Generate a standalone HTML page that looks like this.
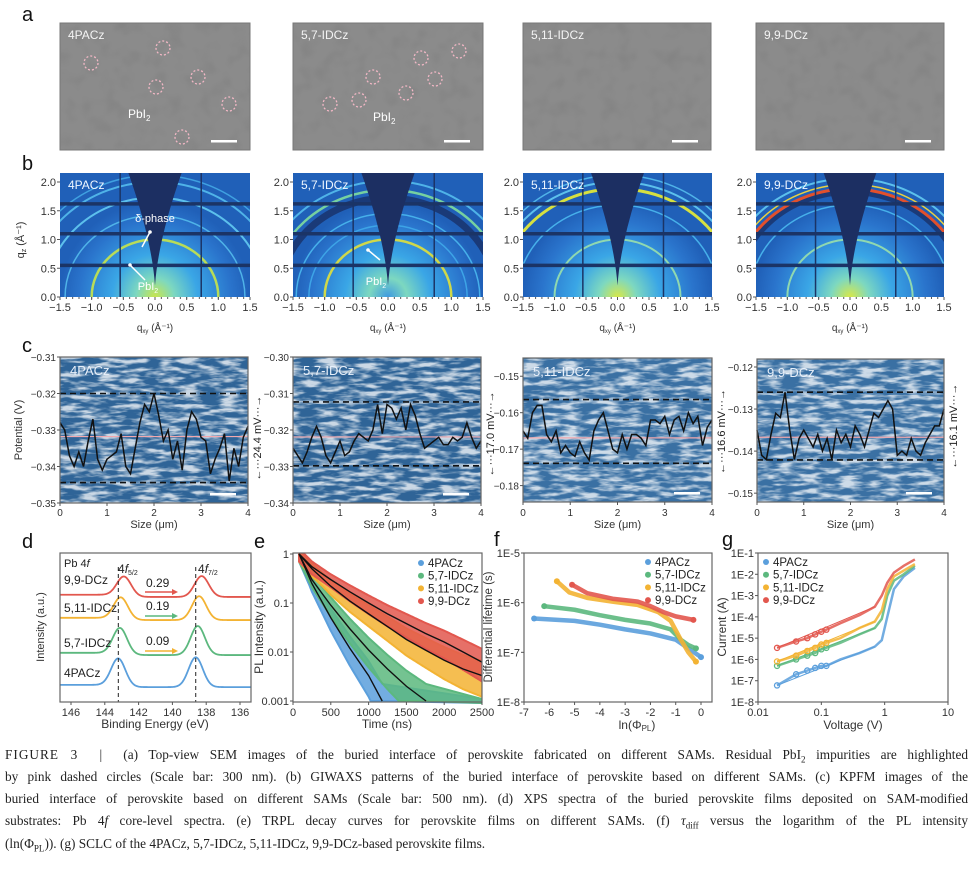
<!DOCTYPE html>
<html><head><meta charset="utf-8">
<style>
html,body{margin:0;padding:0;background:#fff;}
body{width:974px;height:869px;position:relative;overflow:hidden;font-family:"Liberation Sans",sans-serif;}
svg{position:absolute;left:0;top:0;}
svg text{font-family:"Liberation Sans",sans-serif;}
.cap{position:absolute;left:5px;width:963px;font-family:"Liberation Serif",serif;font-size:13.3px;color:#222;white-space:nowrap;text-align:justify;text-align-last:justify;line-height:16px;}
.cap.last{text-align-last:left;}
</style></head>
<body>
<svg id="fig" width="974" height="869" viewBox="0 0 974 869">
<defs>
<filter id="kpfm" x="0" y="0" width="100%" height="100%">
<feTurbulence type="fractalNoise" baseFrequency="0.05 0.22" numOctaves="3" seed="4"/>
<feColorMatrix type="matrix" values="0 0 0 0 1  0 0 0 0 1  0 0 0 0 1  3.5 0 0 0 -1.45"/>
</filter>
<filter id="sem" x="0" y="0" width="100%" height="100%">
<feTurbulence type="fractalNoise" baseFrequency="0.06" numOctaves="2" seed="2"/>
<feColorMatrix type="matrix" values="0 0 0 0 0.2  0 0 0 0 0.2  0 0 0 0 0.2  2.2 0 0 0 -1.05"/>
</filter>
</defs>
<g font-size="20" fill="#111">
<text x="22" y="21">a</text>
<text x="22" y="170">b</text>
<text x="22" y="352">c</text>
<text x="22" y="548">d</text>
<text x="254" y="548">e</text>
<text x="494" y="546">f</text>
<text x="722" y="546">g</text>
</g>
</svg>
<div class="cap" style="top:747px"><b style="font-weight:normal;letter-spacing:1px">FIGURE 3</b> &nbsp;|&nbsp; (a) Top-view SEM images of the buried interface of perovskite fabricated on different SAMs. Residual PbI<sub style="font-size:9px">2</sub> impurities are highlighted</div>
<div class="cap" style="top:769px">by pink dashed circles (Scale bar: 300 nm). (b) GIWAXS patterns of the buried interface of perovskite based on different SAMs. (c) KPFM images of the</div>
<div class="cap" style="top:791px">buried interface of perovskite based on different SAMs (Scale bar: 500 nm). (d) XPS spectra of the buried perovskite films deposited on SAM-modified</div>
<div class="cap" style="top:813px">substrates: Pb 4<i>f</i> core-level spectra. (e) TRPL decay curves for perovskite films on different SAMs. (f) <i>τ</i><sub style="font-size:9px">diff</sub> versus the logarithm of the PL intensity</div>
<div class="cap last" style="top:836px">(ln(Φ<sub style="font-size:9px">PL</sub>)). (g) SCLC of the 4PACz, 5,7-IDCz, 5,11-IDCz, 9,9-DCz-based perovskite films.</div>
<script>
// ---------- data ----------
const samples=['4PACz','5,7-IDCz','5,11-IDCz','9,9-DCz'];
const colors=['#5b9fdc','#5cb87e','#f3b333','#e2574e'];
const kpfmX=[0,0.1,0.2,0.3,0.4,0.5,0.6,0.7,0.8,0.9,1,1.1,1.2,1.3,1.4,1.5,1.6,1.7,1.8,1.9,2,2.1,2.2,2.3,2.4,2.5,2.6,2.7,2.8,2.9,3,3.1,3.2,3.3,3.4,3.5,3.6,3.7,3.8,3.9,4];
const kpfm4PACz=[-0.328,-0.33,-0.337,-0.34,-0.336,-0.34,-0.333,-0.327,-0.338,-0.341,-0.338,-0.337,-0.336,-0.331,-0.34,-0.342,-0.335,-0.328,-0.323,-0.325,-0.32,-0.326,-0.333,-0.33,-0.338,-0.333,-0.341,-0.33,-0.325,-0.327,-0.332,-0.333,-0.342,-0.338,-0.335,-0.331,-0.344,-0.335,-0.34,-0.332,-0.329];
const kpfm57=[-0.325,-0.327,-0.329,-0.326,-0.322,-0.319,-0.322,-0.327,-0.329,-0.326,-0.323,-0.327,-0.326,-0.323,-0.321,-0.322,-0.323,-0.32,-0.313,-0.321,-0.313,-0.314,-0.317,-0.314,-0.32,-0.313,-0.316,-0.321,-0.325,-0.324,-0.323,-0.322,-0.324,-0.324,-0.322,-0.323,-0.322,-0.318,-0.322,-0.325,-0.323];
const kpfm511=[-0.165,-0.167,-0.16,-0.158,-0.158,-0.166,-0.168,-0.165,-0.171,-0.169,-0.171,-0.172,-0.168,-0.171,-0.173,-0.165,-0.162,-0.16,-0.165,-0.17,-0.171,-0.166,-0.17,-0.166,-0.166,-0.167,-0.169,-0.162,-0.162,-0.163,-0.161,-0.166,-0.162,-0.161,-0.165,-0.16,-0.163,-0.161,-0.169,-0.164,-0.162];
const kpfm99=[-0.135,-0.141,-0.142,-0.136,-0.131,-0.132,-0.126,-0.135,-0.142,-0.137,-0.135,-0.137,-0.139,-0.136,-0.14,-0.137,-0.142,-0.135,-0.138,-0.136,-0.139,-0.134,-0.136,-0.139,-0.135,-0.131,-0.132,-0.13,-0.128,-0.13,-0.141,-0.14,-0.141,-0.137,-0.14,-0.141,-0.138,-0.136,-0.134,-0.134,-0.13];
const kpfmUpper=[-0.32,-0.3123,-0.1564,-0.126];
const kpfmLower=[-0.3444,-0.3298,-0.1739,-0.1421];
const kpfmMean=[-0.3318,-0.3219,-0.1669,-0.1367];
const kpfmDelta=['24.4 mV','17.0 mV','16.6 mV','16.1 mV'];
const xpsBaseline=[1.0,3.15,5.5,7.05];
const xpsPeak52=[143.2,143.1,143.05,142.86];
const xpsPeak72=[138.62,138.5,138.42,138.27];
const xpsHeight52=[1.85,1.75,1.45,1.3];
const xpsHeight72=[2.0,1.95,1.6,1.4];
const xpsShift=['0.09','0.19','0.29'];
const trplT=[[80,250,500,750,1000,1180],[80,250,500,750,1000,1250,1500,1760],[80,250,500,750,1000,1250,1500,1750,2000,2250,2500],[80,250,500,750,1000,1250,1500,1750,2000,2250,2500]];
const trplI=[[1,0.25,0.05,0.012,0.0033,0.001],[1,0.3,0.09,0.03,0.011,0.0045,0.002,0.001],[1,0.5,0.22,0.11,0.06,0.033,0.018,0.011,0.0068,0.0045,0.0033],[1,0.55,0.3,0.17,0.1,0.06,0.038,0.024,0.016,0.01,0.0062]];
const tauX=[[-6.6,-5,-4,-3,-2,-1,-0.5,0],[-6.2,-5,-4,-3,-2,-1.2,-0.8,-0.5,-0.2],[-5.7,-5.2,-4.5,-3.5,-2.5,-1.7,-1.2,-0.8,-0.5,-0.2],[-5.1,-4.5,-3.5,-2.5,-2,-1.5,-1,-0.3]];
const tauY=[[4.8e-7,4.3e-7,3.6e-7,2.9e-7,2.4e-7,1.8e-7,1.2e-7,8e-8],[8.5e-7,7.2e-7,5.6e-7,4.5e-7,3.8e-7,2.9e-7,1.8e-7,1.4e-7,1.2e-7],[2.7e-6,1.6e-6,1.25e-6,1.05e-6,9e-7,6.5e-7,4.3e-7,1.8e-7,1e-7,6.5e-8],[2.3e-6,1.55e-6,1.2e-6,1.05e-6,8.5e-7,6.5e-7,5.3e-7,4.5e-7]];
const sclcV=[0.02,0.04,0.06,0.08,0.1,0.12,0.2,0.4,0.7,0.9,1.1,1.4,2,3];
const sclc4PACz=[6e-8,2e-7,3e-7,4e-7,5e-7,5e-7,1e-6,2e-6,4e-6,8e-6,1e-4,2e-3,8e-3,2e-2];
const sclc57=[5e-7,1e-6,1.5e-6,2e-6,3e-6,3.5e-6,6e-6,1.5e-5,3e-5,8e-5,1e-3,5e-3,1e-2,2.5e-2];
const sclc511=[8e-7,1.5e-6,2.5e-6,3.5e-6,5e-6,6e-6,1e-5,3e-5,6e-5,2e-4,2e-3,8e-3,1.5e-2,3e-2];
const sclc99=[3.5e-6,7e-6,1e-5,1.5e-5,2e-5,2.5e-5,5e-5,1.2e-4,3e-4,1e-3,4e-3,1.2e-2,2.5e-2,5e-2];

// ---------- helpers ----------
const NS='http://www.w3.org/2000/svg';
const svg=document.getElementById('fig');
function mk(tag,parent){const e=document.createElementNS(NS,tag);parent.appendChild(e);return e;}
function at(e,o){for(const k in o)e.setAttribute(k,o[k]);return e;}
function lin(d0,d1,r0,r1){return v=>r0+(v-d0)/(d1-d0)*(r1-r0);}
function lg(d0,d1,r0,r1){const a=Math.log10(d0),b=Math.log10(d1);return v=>r0+(Math.log10(v)-a)/(b-a)*(r1-r0);}
function txt(parent,x,y,s,size,anchor,fill){const t=mk('text',parent);at(t,{x:x,y:y,'font-size':size,'text-anchor':anchor||'start',fill:fill||'#333'});t.textContent=s;return t;}
function frame(g,x0,y0,x1,y1){const r=mk('rect',g);at(r,{x:x0,y:y0,width:x1-x0,height:y1-y0,fill:'none',stroke:'#666','stroke-width':1.2});}
function xTicks(g,vals,labels,sx,yb,ly,size){vals.forEach((v,i)=>{const l=mk('line',g);at(l,{x1:sx(v),x2:sx(v),y1:yb,y2:yb+3,stroke:'#555'});const t=txt(g,sx(v),ly,labels[i],size||11,'middle');});}
function yTicks(g,vals,labels,sy,xl,size){vals.forEach((v,i)=>{const l=mk('line',g);at(l,{x1:xl-3,x2:xl,y1:sy(v),y2:sy(v),stroke:'#555'});const t=txt(g,xl-4,sy(v)+4,labels[i],size||11,'end');});}
function vtitle(g,x,y,s,size){const t=txt(g,x,y,s,size||11,'middle');t.setAttribute('transform','rotate(-90 '+x+' '+y+')');return t;}

// ---------- (a) SEM ----------
const semBoxes=[[60,23,250,150],[293,23,483,150],[523,23,711,150],[756,23,944,150]];
const semCircles=[[[91,63],[163,48],[156,87],[198,77],[229,104],[182,137]],[[330,104],[359,100],[373,77],[406,93],[421,58],[435,79],[459,51]],[],[]];
semBoxes.forEach((b,i)=>{
  const g=mk('g',svg);
  const r=mk('rect',g);at(r,{x:b[0],y:b[1],width:b[2]-b[0],height:b[3]-b[1],fill:'#8b8b8b',stroke:'#777'});
  const n=mk('rect',g);at(n,{x:b[0],y:b[1],width:b[2]-b[0],height:b[3]-b[1],filter:'url(#sem)',opacity:0.5});
  const lb=txt(g,b[0]+8,b[1]+16,samples[i],12,'start','#f4f4f4');
  semCircles[i].forEach(c=>{const ci=mk('circle',g);at(ci,{cx:c[0],cy:c[1],r:7,fill:'none',stroke:'#f3b8c6','stroke-width':1.3,'stroke-dasharray':'2 2'});});
  const sb=mk('rect',g);at(sb,{x:b[2]-39,y:b[3]-10,width:26,height:2.5,fill:'#fff'});
});
[[128,118],[373,121]].forEach(p=>{const t=txt(svg,p[0],p[1],'PbI',12,'start','#fff');const s=mk('tspan',t);at(s,{'font-size':8,dy:3});s.textContent='2';});

// ---------- (b) GIWAXS ----------
const gwBoxes=[[60,173,250,297],[293,173,483,297],[523,173,712,297],[756,173,944,297]];
const gwRings=[
 [[1.0,'#b8dc58',2.5],[1.42,'#4fb3e8',1.5],[1.73,'#5cc0ec',2],[2.0,'#4fb3e8',2],[2.12,'#3fa0e0',1.5]],
 [[1.0,'#cfd84a',2.5],[1.25,'#3da4e6',1.5],[1.45,'#46b0ea',1.5],[1.72,'#1a3a78',7],[1.86,'#76d0a0',2.5],[2.02,'#4fb3e8',2]],
 [[1.0,'#8fd8b0',2],[1.6,'#46b0ea',1.5],[1.88,'#d6e040',3],[2.0,'#5cc0ec',2],[2.12,'#4fb3e8',1.5]],
 [[1.0,'#8fd8b0',2],[1.6,'#46b0ea',1.5],[1.82,'#1a3a78',5],[1.88,'#e2502c',3],[1.96,'#e8d040',1.5],[2.06,'#5cc0ec',2]]];
const gwCore=['#c9e64c','#3f9ae0','#d8e848','#d8e848'];
const defs=svg.querySelector('defs');
gwBoxes.forEach((b,i)=>{
  const sx=lin(-1.5,1.5,b[0],b[2]), sy=lin(0,2.0,297,182);
  const g=mk('g',svg);
  const cp=mk('clipPath',defs);cp.id='gwc'+i;const cr=mk('rect',cp);at(cr,{x:b[0],y:b[1],width:b[2]-b[0],height:b[3]-b[1]});
  const gr=mk('radialGradient',defs);gr.id='gwg'+i;at(gr,{gradientUnits:'userSpaceOnUse',cx:sx(0),cy:297,r:95});
  [[0,gwCore[i]],[0.2,'#7dd8c0'],[0.45,'#3aa6e6'],[0.8,'#2a74cc'],[1,'#2060b8']].forEach(s=>{const st=mk('stop',gr);at(st,{offset:s[0],'stop-color':s[1]});});
  const cg=mk('g',g);cg.setAttribute('clip-path','url(#gwc'+i+')');
  const bg=mk('rect',cg);at(bg,{x:b[0],y:b[1],width:b[2]-b[0],height:b[3]-b[1],fill:'url(#gwg'+i+')'});
  gwRings[i].forEach(r=>{const e=mk('ellipse',cg);at(e,{cx:sx(0),cy:sy(0),rx:sx(r[0])-sx(0),ry:sy(0)-sy(r[0]),fill:'none',stroke:r[1],'stroke-width':r[2]});});
  [1.62,1.1,0.55].forEach(q=>{const l=mk('line',cg);at(l,{x1:b[0],x2:b[2],y1:sy(q),y2:sy(q),stroke:'#1b3466','stroke-width':3.5});});
  [-0.55,0.73].forEach(q=>{const l=mk('line',cg);at(l,{x1:sx(q),x2:sx(q),y1:b[1],y2:b[3],stroke:'#1b3466','stroke-width':1.5});});
  const w=mk('path',cg);at(w,{d:`M${sx(-0.42)},${b[1]} Q${sx(-0.05)},${sy(1.0)} ${sx(0)},${sy(0.2)} Q${sx(0.05)},${sy(1.0)} ${sx(0.42)},${b[1]} Z`,fill:'#1c2f62'});
  const lb=txt(g,b[0]+8,b[1]+16,samples[i],12,'start','#eef6ff');
  const minor=[];for(let k=-15;k<=15;k++)minor.push(k/10);
  minor.forEach(v=>{const l=mk('line',g);at(l,{x1:sx(v),x2:sx(v),y1:297,y2:299,stroke:'#555'});});
  xTicks(g,[-1.5,-1,-0.5,0,0.5,1,1.5],['−1.5','−1.0','−0.5','0.0','0.5','1.0','1.5'],sx,297,311,11);
  yTicks(g,[0,0.5,1,1.5,2],['0.0','0.5','1.0','1.5','2.0'],sy,b[0],11);
  const xt=txt(g,(b[0]+b[2])/2,331,'q',10,'middle');const s1=mk('tspan',xt);at(s1,{'font-size':6,dy:2});s1.textContent='xy';const s2=mk('tspan',xt);at(s2,{dy:-2});s2.textContent=' (Å⁻¹)';
  
});
{const t=vtitle(svg,24,240,'q');const s=mk('tspan',t);at(s,{'font-size':7,dy:2});s.textContent='z';const s2=mk('tspan',t);at(s2,{dy:-2});s2.textContent=' (Å⁻¹)';}
[[155,222,'δ-phase',150,232,142,247],[148,290,'PbI',130,265,145,280],[376,285,'PbI',368,250,380,260]].forEach(a=>{const t=txt(svg,a[0],a[1],a[2],11,'middle','#fff');if(a[2]==='PbI'){const s=mk('tspan',t);at(s,{'font-size':7,dy:3});s.textContent='2';}
 const l=mk('line',svg);at(l,{x1:a[5],y1:a[6],x2:a[3],y2:a[4],stroke:'#fff','stroke-width':1.5});const h=mk('circle',svg);at(h,{cx:a[3],cy:a[4],r:1.8,fill:'#fff'});});

// ---------- (c) KPFM ----------
const kpBoxes=[[60,357,248,503],[293,357,481,503],[523,358,712,502],[757,359,944,502]];
const kpRange=[[-0.35,-0.31],[-0.34,-0.30],[-0.1845,-0.145],[-0.1521,-0.1181]];
const kpTicks=[[-0.35,-0.34,-0.33,-0.32,-0.31],[-0.34,-0.33,-0.32,-0.31,-0.30],[-0.18,-0.17,-0.16,-0.15],[-0.15,-0.14,-0.13,-0.12]];
const kpProfiles=[kpfm4PACz,kpfm57,kpfm511,kpfm99];
kpBoxes.forEach((b,i)=>{
  const sx=lin(0,4,b[0],b[2]), sy=lin(kpRange[i][0],kpRange[i][1],b[3],b[1]);
  const g=mk('g',svg);
  const bg=mk('rect',g);at(bg,{x:b[0],y:b[1],width:b[2]-b[0],height:b[3]-b[1],fill:i<2?'#2f6497':'#3a70a3'});
  const nz=mk('rect',g);at(nz,{x:b[0],y:b[1],width:b[2]-b[0],height:b[3]-b[1],filter:'url(#kpfm)',opacity:0.75});
  const lb=txt(g,b[0]+10,b[1]+18,samples[i],13,'start','#e8f0fa');
  const pk=mk('line',g);at(pk,{x1:b[0],x2:b[2],y1:sy(kpfmMean[i]),y2:sy(kpfmMean[i]),stroke:'#f2a8ae','stroke-width':1.2});
  [kpfmUpper[i],kpfmLower[i]].forEach(v=>{const l=mk('line',g);at(l,{x1:b[0],x2:b[2],y1:sy(v),y2:sy(v),stroke:'#111','stroke-width':1.6,'stroke-dasharray':'6 4'});});
  const p=mk('polyline',g);at(p,{points:kpfmX.map((x,k)=>sx(x)+','+sy(kpProfiles[i][k])).join(' '),fill:'none',stroke:'#111','stroke-width':1.5});
  const sb=mk('rect',g);at(sb,{x:b[2]-38,y:b[3]-10,width:26,height:2.5,fill:'#fff'});
  frame(g,b[0],b[1],b[2],b[3]);
  xTicks(g,[0,1,2,3,4],['0','1','2','3','4'],sx,b[3],516,10);
  yTicks(g,kpTicks[i],kpTicks[i].map(v=>'−'+Math.abs(v).toFixed(2)),sy,b[0],10);
  const xt=txt(g,(b[0]+b[2])/2,528,'Size (μm)',11,'middle');
  const ax=b[2]+9, ym=(sy(kpfmUpper[i])+sy(kpfmLower[i]))/2;
  const dt=vtitle(g,ax+4,ym,'←···'+kpfmDelta[i]+'···→',11);dt.setAttribute('fill','#222');
});
{const t=vtitle(svg,22,430,'Potential (V)',11);}

// ---------- (d) XPS ----------
{
 const b=[60,553,251,702];const sx=lin(146.65,135.35,b[0],b[2]), sy=lin(0,10,702,553);
 const g=mk('g',svg);
 const G=(x,c,s)=>Math.exp(-0.5*((x-c)/s)*((x-c)/s));
 for(let i=0;i<4;i++){
   const pts=[];for(let k=0;k<=226;k++){const e=146.65-k*0.05;const step=0.15/(1+Math.exp(-(e-xpsPeak52[i])/0.3));
     const v=xpsBaseline[i]+step+xpsHeight52[i]*G(e,xpsPeak52[i],0.42)+xpsHeight72[i]*G(e,xpsPeak72[i],0.42);pts.push(sx(e)+','+sy(v));}
   const p=mk('polyline',g);at(p,{points:pts.join(' '),fill:'none',stroke:colors[i],'stroke-width':1.8});
 }
 [xpsPeak52[0],xpsPeak72[0]].forEach(v=>{const l=mk('line',g);at(l,{x1:sx(v),x2:sx(v),y1:567,y2:702,stroke:'#222','stroke-dasharray':'4 3'});});
 frame(g,b[0],b[1],b[2],b[3]);
 xTicks(g,[146,144,142,140,138,136],['146','144','142','140','138','136'],sx,702,716,11);
 const labY=[677,647,612,584];
 samples.forEach((s,i)=>{const t=txt(g,64,labY[i],s,12,'start','#222');});
 const pt=txt(g,64,567,'Pb 4',11,'start','#222');const pi=mk('tspan',pt);pi.setAttribute('font-style','italic');pi.textContent='f';
 [[118,'5/2'],[198,'7/2']].forEach(a=>{const t=txt(g,a[0],573,'4',12,'start','#222');const f=mk('tspan',t);f.setAttribute('font-style','italic');f.textContent='f';const s=mk('tspan',t);at(s,{'font-size':7,dy:2});s.textContent=a[1];});
 const arY=[[651,645,2],[616,610,1],[592,587,3]];
 arY.forEach((a,k)=>{const c=colors[a[2]];const l=mk('line',g);at(l,{x1:145,x2:172,y1:a[0],y2:a[0],stroke:c,'stroke-width':1.5});
   const h=mk('path',g);at(h,{d:`M172,${a[0]-3} L178,${a[0]} L172,${a[0]+3}Z`,fill:c});
   const t=txt(g,146,a[1],xpsShift[k],12,'start','#222');});
 const xt=txt(g,155,728,'Binding Energy (eV)',12,'middle');
 const yt=vtitle(g,44,627,'Intensity (a.u.)',11);
}

// ---------- (e) TRPL ----------
function legend(g,x,y0,dy){samples.forEach((s,i)=>{const c=mk('circle',g);at(c,{cx:x,cy:y0+i*dy-4,r:3,fill:colors[i]});const t=txt(g,x+7,y0+i*dy,s,11.5,'start','#222');});}
{
 const b=[293,553,482,702];const sx=lin(0,2500,b[0],b[2]), sy=lg(0.001,1,701,554);
 const g=mk('g',svg);
 const cp=mk('clipPath',defs);cp.id='ecl';const cr=mk('rect',cp);at(cr,{x:b[0],y:b[1],width:b[2]-b[0],height:b[3]-b[1]+2});
 const cg=mk('g',g);cg.setAttribute('clip-path','url(#ecl)');
 for(let i=0;i<4;i++){
   const T=trplT[i],I=trplI[i];
   const up=[],lo=[];
   for(let k=0;k<T.length-1;k++){
     const n=Math.max(2,Math.round((T[k+1]-T[k])/10));
     for(let j=0;j<=n;j++){const f=j/n;const t=T[k]+f*(T[k+1]-T[k]);const v=Math.pow(10,Math.log10(I[k])+f*(Math.log10(I[k+1])-Math.log10(I[k])));
       const w=1+0.9*Math.max(0,-Math.log10(v)-0.5);
       up.push(sx(t)+','+sy(Math.max(0.001,v*Math.pow(1.28,w))));
       lo.unshift(sx(t)+','+sy(Math.max(0.001,v*Math.pow(0.7,w))));
     }
   }
   const last=T[T.length-1];
   if(i<2){up.push(sx(2500)+','+(sy(0.001)-2));lo.unshift(sx(2500)+','+(sy(0.001)+2));}
   const band=mk('polygon',cg);at(band,{points:up.concat(lo).join(' '),fill:colors[i],'fill-opacity':0.85,stroke:colors[i],'stroke-width':2,'stroke-linejoin':'round'});
   
   
 }
 for(let i=0;i<4;i++){const p=mk('polyline',cg);at(p,{points:trplT[i].map((t,k)=>sx(t)+','+sy(trplI[i][k])).join(' '),fill:'none',stroke:'#111','stroke-width':1.4});}
 frame(g,b[0],b[1],b[2],b[3]);
 xTicks(g,[0,500,1000,1500,2000,2500],['0','500','1000','1500','2000','2500'],sx,702,716,11);
 yTicks(g,[1,0.1,0.01,0.001],['1','0.1','0.01','0.001'],sy,b[0],11);
 legend(g,421,567,12.7);
 const xt=txt(g,387,728,'Time (ns)',12,'middle');
 const yt=vtitle(g,263,627,'PL Intensity (a.u.)',12);
}

// ---------- (f) differential lifetime ----------
{
 const b=[524,553,712,702];const sx=lin(-7,0,524,701), sy=lg(1e-8,1e-5,702,553);
 const g=mk('g',svg);
 for(let i=0;i<4;i++){
   const X=tauX[i],Y=tauY[i];
   const sg=mk('g',g);
   const pl=mk('polyline',sg);at(pl,{points:X.map((x,k)=>sx(x)+','+sy(Y[k])).join(' '),fill:'none',stroke:colors[i],'stroke-width':4.5,'stroke-linecap':'round','stroke-linejoin':'round','stroke-opacity':0.9});
   const c=mk('circle',sg);at(c,{cx:sx(X[0]),cy:sy(Y[0]),r:3,fill:colors[i]});
   const c2=mk('circle',sg);at(c2,{cx:sx(X[X.length-1]),cy:sy(Y[Y.length-1]),r:3,fill:colors[i]});
 }
 frame(g,b[0],b[1],b[2],b[3]);
 xTicks(g,[-7,-6,-5,-4,-3,-2,-1,0],['-7','-6','-5','-4','-3','-2','-1','0'],sx,702,716,11);
 yTicks(g,[1e-5,1e-6,1e-7,1e-8],['1E-5','1E-6','1E-7','1E-8'],sy,b[0],11);
 legend(g,648,566,12.7);
 const xt=txt(g,637,729,'ln(Φ',12,'middle');const s=mk('tspan',xt);at(s,{'font-size':8,dy:2});s.textContent='PL';const s2=mk('tspan',xt);at(s2,{dy:-2});s2.textContent=')';
 const yt=vtitle(g,492,627,'Differential lifetime (s)',11.5);
}

// ---------- (g) SCLC ----------
{
 const b=[758,553,948,702];const sx=lg(0.01,10,758,948), sy=lg(1e-8,1e-1,702,553);
 const g=mk('g',svg);
 const series=[sclc4PACz,sclc57,sclc511,sclc99];
 for(let i=0;i<4;i++){
   const sg=mk('g',g);
   const pl=mk('polyline',sg);at(pl,{points:sclcV.map((v,k)=>sx(v)+','+sy(series[i][k])).join(' '),fill:'none',stroke:colors[i],'stroke-width':2.5,'stroke-opacity':0.85});
   sclcV.forEach((v,k)=>{if(v<=0.12){const c=mk('circle',sg);at(c,{cx:sx(v),cy:sy(series[i][k]),r:2.6,fill:'none',stroke:colors[i],'stroke-width':1.3});}});
   const fl=mk('line',sg);at(fl,{x1:sx(0.02),y1:sy(series[i][0]),x2:sx(sclcV[8]),y2:sy(series[i][8]),stroke:colors[i],'stroke-width':1});
 }
 frame(g,b[0],b[1],b[2],b[3]);
 xTicks(g,[0.01,0.1,1,10],['0.01','0.1','1','10'],sx,702,716,11);
 yTicks(g,[1e-1,1e-2,1e-3,1e-4,1e-5,1e-6,1e-7,1e-8],['1E-1','1E-2','1E-3','1E-4','1E-5','1E-6','1E-7','1E-8'],sy,b[0],11);
 legend(g,766,566,12.7);
 const xt=txt(g,853,729,'Voltage (V)',12,'middle');
 const yt=vtitle(g,726,627,'Current (A)',12);
}
</script>
</body></html>
